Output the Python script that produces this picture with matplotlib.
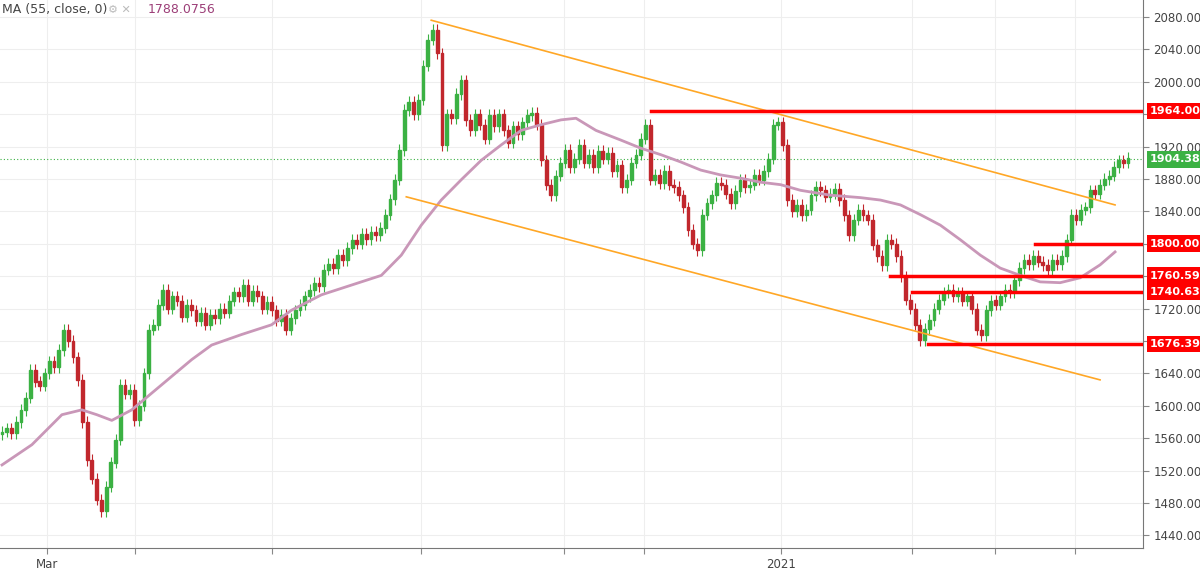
import matplotlib
matplotlib.use("Agg")
import matplotlib.pyplot as plt
from matplotlib.patches import Rectangle

closes = [1568,1572,1566,1580,1595,1610,1644,1630,1625,1640,1655,1648,1669,1694,1680,1660,1632,
1580,1533,1510,1484,1470,1500,1530,1558,1626,1615,1620,1582,1600,1640,1694,1700,1725,1743,
1720,1735,1730,1710,1725,1718,1705,1715,1700,1712,1708,1720,1715,1730,1740,1735,1749,
1730,1742,1735,1720,1728,1718,1705,1712,1694,1708,1718,1725,1735,1743,1752,1748,1768,
1775,1770,1786,1780,1795,1805,1800,1812,1806,1815,1811,1820,1836,1855,1879,1916,1965,
1975,1960,1978,2020,2052,2064,2035,1922,1960,1955,1985,2002,1953,1940,1960,1947,1930,1959,
1945,1960,1940,1925,1945,1935,1950,1959,1962,1947,1903,1873,1860,1884,1900,1916,1895,1905,
1922,1900,1910,1895,1915,1905,1912,1890,1897,1870,1879,1900,1910,1930,1947,1879,1885,1875,
1890,1873,1870,1860,1845,1817,1800,1792,1836,1850,1860,1875,1873,1862,1850,1865,1879,
1870,1873,1885,1879,1890,1905,1947,1950,1922,1854,1840,1848,1835,1842,1860,1870,1866,
1858,1862,1868,1854,1835,1811,1830,1842,1835,1830,1799,1785,1774,1805,1800,1785,1760,
1731,1720,1700,1681,1695,1706,1720,1731,1740,1743,1735,1740,1730,1735,1720,1694,1687,1718,
1730,1725,1735,1743,1740,1755,1770,1780,1775,1785,1778,1774,1768,1780,1775,1785,1805,1836,
1830,1842,1845,1866,1862,1873,1880,1884,1895,1903,1900,1906]
first_open = 1565
wick = 7

ma_x = [0,30,60,80,95,110,130,160,190,210,240,270,290,320,350,380,400,420,440,460,480,500,520,540,
        560,575,595,620,640,660,680,700,720,740,760,780,800,830,860,880,900,920,940,960,980,1000,
        1020,1040,1060,1080,1100,1115]
ma_y = [1527,1552,1589,1595,1589,1582,1595,1626,1657,1675,1688,1700,1718,1737,1749,1761,1786,1823,
        1854,1879,1903,1922,1940,1947,1953,1955,1940,1928,1918,1910,1901,1891,1885,1881,1876,1873,
        1866,1860,1857,1854,1848,1836,1823,1805,1786,1770,1761,1753,1752,1758,1774,1790]

upper_chan = [(430, 2076), (1115, 1848)]
lower_chan = [(405, 1858), (1100, 1632)]
levels = [(650, 1964.00), (1035, 1800.00), (890, 1760.59), (912, 1740.63), (928, 1676.39)]
last_price = 1904.38
yticks = list(range(1440, 2081, 40))
month_ticks_px = [45, 133, 270, 420, 563, 643, 780, 912, 995, 1075]
month_labels = ["Mar", "", "", "", "", "", "2021", "", "", ""]

N = len(closes)
step = 1128 / (N - 1)
px = lambda p: p / step

H = 572
bottom_px = 548
scale = 0.81  # px per price unit
fig = plt.figure(figsize=(12, 5.72), dpi=100)
ax = fig.add_axes([0, (H - bottom_px) / H, 1143 / 1200, bottom_px / H])
ax.set_xlim(px(-2), px(1143))
ax.set_ylim(2080 - (bottom_px - 17) / scale, 2080 + 17 / scale)

up_c, dn_c = "#3bb143", "#c1272d"
prev = first_open
for i, c in enumerate(closes):
    o = prev
    col = up_c if c >= o else dn_c
    ax.vlines(i, min(o, c) - wick, max(o, c) + wick, color=col, lw=0.8, zorder=3)
    h = max(abs(c - o), 1)
    ax.add_patch(Rectangle((i - 0.3, min(o, c)), 0.6, h, color=col, zorder=4))
    prev = c

ax.plot([px(v) for v in ma_x], ma_y, color="#c997b8", lw=2, zorder=5)
for ch in (upper_chan, lower_chan):
    ax.plot([px(ch[0][0]), px(ch[1][0])], [ch[0][1], ch[1][1]], color="#ffa726", lw=1.2, zorder=6)
for x0, lv in levels:
    ax.plot([px(x0), px(1143)], [lv, lv], color="#ff0000", lw=2.5, zorder=7)
ax.axhline(last_price, color="#3bb143", lw=0.8, ls=(0, (1, 2)), zorder=2)

ax.set_yticks(yticks)
ax.yaxis.tick_right()
ax.set_yticklabels([f"{v:.2f}" for v in yticks], fontsize=8.5, color="#444444")
ax.set_xticks([px(v) for v in month_ticks_px])
ax.set_xticklabels(month_labels, fontsize=8.5, color="#444444")
ax.tick_params(length=4, color="#888888")
ax.grid(color="#eeeeee", lw=0.8)
for s in ["top", "left"]:
    ax.spines[s].set_visible(False)
for s in ["right", "bottom"]:
    ax.spines[s].set_color("#777777")

def tag(val, colr):
    ax.text(1.006, val, f"{val:.2f}", transform=ax.get_yaxis_transform(), ha="left", va="center",
            fontsize=8, color="white", fontweight="bold",
            bbox=dict(boxstyle="square,pad=0.3", fc=colr, ec="none"), zorder=10, clip_on=False)

for (x0, lv) in levels:
    tag(lv, "#ff0000")
tag(last_price, "#3bb143")

fig.text(0.002, 0.983, "MA (55, close, 0)", fontsize=9, color="#444444", va="center")
fig.text(0.09, 0.983, "⚙ ✕", fontsize=8, color="#bbbbbb", va="center")
fig.text(0.123, 0.983, "1788.0756", fontsize=9, color="#9c3f78", va="center")

fig.savefig("out.png", dpi=100)
